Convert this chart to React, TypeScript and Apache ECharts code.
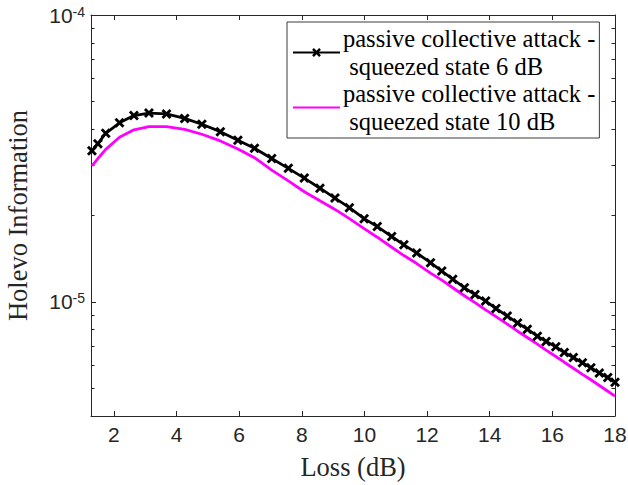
import React, { useEffect, useRef } from "react";
import * as echarts from "echarts";

const lossDb = [
  1.3, 1.49, 1.74, 2.18, 2.64, 3.12, 3.68, 4.26, 4.81, 5.4, 5.96, 6.49, 7.04,
  7.57, 8.08, 8.58, 9.06, 9.52, 9.99, 10.41, 10.87, 11.26, 11.67, 12.11, 12.47,
  12.82, 13.19, 13.53, 13.87, 14.2, 14.56, 14.89, 15.2, 15.52, 15.8, 16.11,
  16.38, 16.67, 16.96, 17.23, 17.5, 17.77, 18.0,
];

const holevo6dB = [
  3.36e-5, 3.56e-5, 3.87e-5, 4.21e-5, 4.46e-5, 4.55e-5, 4.52e-5, 4.36e-5,
  4.16e-5, 3.92e-5, 3.66e-5, 3.43e-5, 3.16e-5, 2.92e-5, 2.7e-5, 2.49e-5,
  2.3e-5, 2.13e-5, 1.95e-5, 1.83e-5, 1.69e-5, 1.58e-5, 1.48e-5, 1.37e-5,
  1.28e-5, 1.2e-5, 1.12e-5, 1.06e-5, 1.006e-5, 9.48e-6, 8.92e-6, 8.44e-6,
  8.03e-6, 7.59e-6, 7.28e-6, 6.97e-6, 6.66e-6, 6.4e-6, 6.13e-6, 5.89e-6,
  5.65e-6, 5.45e-6, 5.24e-6,
];

const holevo10dB = [
  2.98e-5, 3.16e-5, 3.4e-5, 3.75e-5, 3.98e-5, 4.08e-5, 4.08e-5, 3.99e-5,
  3.84e-5, 3.64e-5, 3.41e-5, 3.18e-5, 2.88e-5, 2.64e-5, 2.42e-5, 2.25e-5,
  2.1e-5, 1.95e-5, 1.8e-5, 1.68e-5, 1.55e-5, 1.45e-5, 1.36e-5, 1.26e-5,
  1.19e-5, 1.12e-5, 1.05e-5, 9.94e-6, 9.38e-6, 8.88e-6, 8.36e-6, 7.9e-6,
  7.51e-6, 7.12e-6, 6.79e-6, 6.45e-6, 6.16e-6, 5.87e-6, 5.59e-6, 5.35e-6,
  5.11e-6, 4.88e-6, 4.69e-6,
];

const seriesNames = [
  "passive collective attack -\n squeezed state 6 dB",
  "passive collective attack -\n squeezed state 10 dB",
];

const xTicks = [2, 4, 6, 8, 10, 12, 14, 16, 18];
const yMajorTicks = [1e-5, 1e-4];
const yMinorTicks = [
  5e-6, 6e-6, 7e-6, 8e-6, 9e-6, 2e-5, 3e-5, 4e-5, 5e-5, 6e-5, 7e-5, 8e-5, 9e-5,
];

const X_MIN = 1.27;
const X_MAX = 18;
const Y_MIN = 4e-6;
const Y_MAX = 1e-4;

const AXIS_COLOR = "#262626";
const crossSymbol =
  "path://M0,2 L2,0 L5,3 L8,0 L10,2 L7,5 L10,8 L8,10 L5,7 L2,10 L0,8 L3,5 Z";

export default function App() {
  const ref = useRef<HTMLDivElement>(null);

  useEffect(() => {
    if (!ref.current) return;
    const chart = echarts.init(ref.current, undefined, { renderer: "svg" });

    const xBase = {
      type: "value" as const,
      min: X_MIN,
      max: X_MAX,
      splitLine: { show: false },
      axisLine: { show: true, lineStyle: { color: AXIS_COLOR, width: 1 } },
    };
    const yBase = {
      type: "log" as const,
      logBase: 10,
      min: Y_MIN,
      max: Y_MAX,
      splitLine: { show: false },
      axisLine: { show: true, lineStyle: { color: AXIS_COLOR, width: 1 } },
    };

    const option: any = {
      animation: false,
      backgroundColor: "#ffffff",
      grid: {
        left: 91,
        right: 13,
        top: 15,
        bottom: 69,
        containLabel: false,
        outerBoundsMode: "none",
      },
      legend: {
        show: true,
        orient: "vertical",
        left: 287,
        top: 22,
        padding: [3, 4, 3, 5],
        itemGap: 0,
        itemWidth: 47,
        itemHeight: 11,
        backgroundColor: "#ffffff",
        borderColor: "#3a3a3a",
        borderWidth: 1,
        borderRadius: 0,
        selectedMode: false,
        textStyle: {
          fontFamily: "Liberation Serif",
          fontSize: 24.5,
          lineHeight: 27.5,
          color: "#000000",
          padding: [0, 0, 0, -2],
        },
        data: [
          { name: seriesNames[0] },
          {
            name: seriesNames[1],
            itemStyle: { color: "rgba(0,0,0,0)", opacity: 0, borderWidth: 0 },
          },
        ],
      },
      xAxis: [
        {
          ...xBase,
          position: "bottom",
          name: "Loss (dB)",
          nameLocation: "middle",
          nameGap: 38,
          nameTextStyle: {
            fontFamily: "Liberation Serif",
            fontSize: 26.5,
            lineHeight: 26,
            color: AXIS_COLOR,
          },
          axisTick: {
            show: true,
            inside: true,
            length: 5,
            customValues: xTicks,
            lineStyle: { color: AXIS_COLOR },
          },
          axisLabel: {
            show: true,
            customValues: xTicks,
            margin: 8,
            fontFamily: "Liberation Sans",
            fontSize: 21,
            color: AXIS_COLOR,
            formatter: (v: number) => String(Math.round(v)),
          },
        },
        {
          ...xBase,
          position: "top",
          axisTick: {
            show: true,
            inside: true,
            length: 5,
            customValues: xTicks,
            lineStyle: { color: AXIS_COLOR },
          },
          axisLabel: { show: false },
        },
      ],
      yAxis: [
        {
          ...yBase,
          position: "left",
          name: "Holevo Information",
          nameLocation: "middle",
          nameGap: 61,
          nameTextStyle: {
            fontFamily: "Liberation Serif",
            fontSize: 26.5,
            lineHeight: 24,
            color: AXIS_COLOR,
          },
          axisTick: {
            show: true,
            inside: true,
            length: 5,
            customValues: yMajorTicks,
            lineStyle: { color: AXIS_COLOR },
          },
          axisLabel: {
            show: true,
            customValues: yMajorTicks,
            margin: 6,
            formatter: (v: number) => {
              const e = Math.round(Math.log10(v));
              return "{a|10}{b|" + e + "}";
            },
            rich: {
              a: {
                fontFamily: "Liberation Sans",
                fontSize: 21,
                color: AXIS_COLOR,
                verticalAlign: "bottom",
                padding: [5, 0, 0, 0],
                lineHeight: 21,
              },
              b: {
                fontFamily: "Liberation Sans",
                fontSize: 14,
                color: AXIS_COLOR,
                verticalAlign: "top",
                lineHeight: 14,
              },
            },
          },
        },
        {
          ...yBase,
          position: "left",
          axisLine: { show: false },
          axisTick: {
            show: true,
            inside: true,
            length: 3.5,
            customValues: yMinorTicks,
            lineStyle: { color: AXIS_COLOR },
          },
          axisLabel: { show: false },
        },
        {
          ...yBase,
          position: "right",
          axisTick: {
            show: true,
            inside: true,
            length: 5,
            customValues: yMajorTicks,
            lineStyle: { color: AXIS_COLOR },
          },
          axisLabel: { show: false },
        },
        {
          ...yBase,
          position: "right",
          axisLine: { show: false },
          axisTick: {
            show: true,
            inside: true,
            length: 3.5,
            customValues: yMinorTicks,
            lineStyle: { color: AXIS_COLOR },
          },
          axisLabel: { show: false },
        },
      ],
      series: [
        {
          name: seriesNames[0],
          type: "line",
          xAxisIndex: 0,
          yAxisIndex: 0,
          data: lossDb.map((x, i) => [x, holevo6dB[i]]),
          showSymbol: true,
          symbol: crossSymbol,
          symbolSize: 10,
          itemStyle: { color: "#000000" },
          lineStyle: { color: "#000000", width: 2.8 },
          z: 3,
        },
        {
          name: seriesNames[1],
          type: "line",
          xAxisIndex: 0,
          yAxisIndex: 0,
          data: lossDb.map((x, i) => [x, holevo10dB[i]]),
          showSymbol: false,
          symbol: "none",
          itemStyle: { color: "#ff00ff" },
          lineStyle: { color: "#ff00ff", width: 2.8 },
          z: 2,
        },
      ],
    };

    chart.setOption(option);
    return () => chart.dispose();
  }, []);

  return (
    <div
      ref={ref}
      style={{ position: "fixed", left: 0, top: 0, width: 628, height: 485, background: "#fff" }}
    />
  );
}
